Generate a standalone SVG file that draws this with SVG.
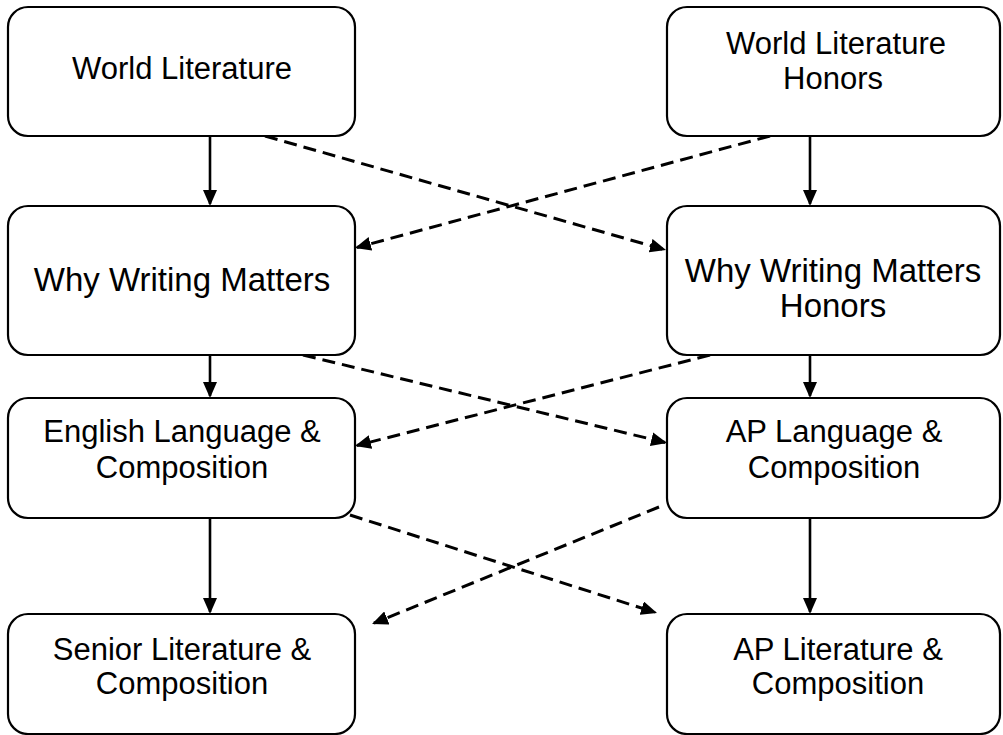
<svg xmlns="http://www.w3.org/2000/svg" width="1003" height="735" viewBox="0 0 1003 735">
<style>
.box{fill:#fff;stroke:#000;stroke-width:2.2}
.lbl{font-family:"Liberation Sans",Arial,sans-serif;font-size:31px;fill:#000;text-anchor:middle}
.big{font-size:33px}
.solid{stroke:#000;stroke-width:2.6;fill:none}
.dash{stroke:#000;stroke-width:3;fill:none;stroke-dasharray:13 7}
</style>
<defs>
<marker id="ah" markerUnits="userSpaceOnUse" markerWidth="18" markerHeight="14" refX="14" refY="7" orient="auto">
<path d="M0,0 L16,7 L0,14 z" fill="#000"/>
</marker>
</defs>
<rect width="1003" height="735" fill="#fff"/>
<g id="connectors">
<line class="solid" x1="210" y1="136" x2="210" y2="204" marker-end="url(#ah)"/>
<line class="solid" x1="810" y1="136" x2="810" y2="204" marker-end="url(#ah)"/>
<line class="solid" x1="210" y1="355" x2="210" y2="396" marker-end="url(#ah)"/>
<line class="solid" x1="810" y1="355" x2="810" y2="396" marker-end="url(#ah)"/>
<line class="solid" x1="210" y1="518" x2="210" y2="612" marker-end="url(#ah)"/>
<line class="solid" x1="810" y1="518" x2="810" y2="612" marker-end="url(#ah)"/>
<line class="dash" x1="265" y1="136" x2="664.1" y2="249.5" marker-end="url(#ah)"/>
<line class="dash" x1="770" y1="136" x2="356.9" y2="247.5" marker-end="url(#ah)"/>
<line class="dash" x1="303" y1="355" x2="665.1" y2="442.5" marker-end="url(#ah)"/>
<line class="dash" x1="710" y1="355" x2="356.9" y2="445.5" marker-end="url(#ah)"/>
<line class="dash" x1="350" y1="515" x2="655.1" y2="612.4" marker-end="url(#ah)"/>
<line class="dash" x1="659" y1="507" x2="373.9" y2="623.2" marker-end="url(#ah)"/>
</g>
<g id="n1">
<rect class="box" x="8" y="7" width="347" height="129" rx="20"/>
<text class="lbl" x="182" y="79">World Literature</text>
</g>
<g id="n2">
<rect class="box" x="667" y="7" width="333" height="129" rx="20"/>
<text class="lbl" x="836" y="54">World Literature</text>
<text class="lbl" x="833" y="89">Honors</text>
</g>
<g id="n3">
<rect class="box" x="8" y="206" width="347" height="149" rx="20"/>
<text class="lbl big" x="182" y="291">Why Writing Matters</text>
</g>
<g id="n4">
<rect class="box" x="667" y="206" width="333" height="149" rx="20"/>
<text class="lbl big" x="833" y="282">Why Writing Matters</text>
<text class="lbl big" x="833" y="317">Honors</text>
</g>
<g id="n5">
<rect class="box" x="8" y="398" width="347" height="120" rx="20"/>
<text class="lbl" x="182" y="442">English Language &amp;</text>
<text class="lbl" x="182" y="478">Composition</text>
</g>
<g id="n6">
<rect class="box" x="667" y="398" width="333" height="120" rx="20"/>
<text class="lbl" x="834" y="442">AP Language &amp;</text>
<text class="lbl" x="834" y="478">Composition</text>
</g>
<g id="n7">
<rect class="box" x="8" y="614" width="347" height="120" rx="20"/>
<text class="lbl" x="182" y="660">Senior Literature &amp;</text>
<text class="lbl" x="182" y="694">Composition</text>
</g>
<g id="n8">
<rect class="box" x="667" y="614" width="333" height="120" rx="20"/>
<text class="lbl" x="838" y="660">AP Literature &amp;</text>
<text class="lbl" x="838" y="694">Composition</text>
</g>
</svg>
